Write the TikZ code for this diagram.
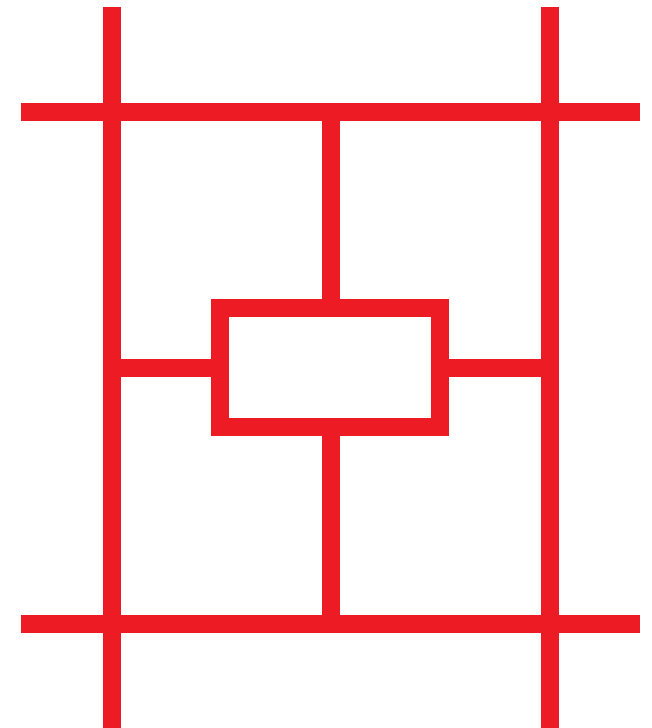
\documentclass[tikz,border=0pt]{standalone}
\usepackage{xcolor}
\usetikzlibrary{positioning,calc}
\definecolor{barred}{RGB}{237,28,36}

\begin{document}
\begin{tikzpicture}[x=1pt,y=-1pt,
	bar/.style={draw=barred,line width=18pt},
	frame/.style={bar,rectangle,inner sep=0pt,minimum width=220pt,minimum height=119pt}]
	
	\useasboundingbox (0,0) rectangle (652,728);
	
	% Rails
	\coordinate (lt) at (112,7);
	\coordinate (lb) at (112,728);
	\coordinate (rt) at (550,7);
	\coordinate (rb) at (550,728);
	\coordinate (tl) at (21,112);
	\coordinate (tr) at (640,112);
	\coordinate (bl) at (21,624);
	\coordinate (br) at (640,624);
	\draw[bar] (lt) -- (lb);
	\draw[bar] (rt) -- (rb);
	\draw[bar] (tl) -- (tr);
	\draw[bar] (bl) -- (br);
	
	% Middle frame
	\node[frame] (box) at (330,367.5) {};
	
	% Links to the rails
	\draw[bar] ([xshift=1pt]box.north) -- ([xshift=1pt]box.north |- tl);
	\draw[bar] ([xshift=1pt]box.south) -- ([xshift=1pt]box.south |- bl);
	\draw[bar] (box.west) -- (box.west -| lt);
	\draw[bar] (box.east) -- (box.east -| rt);
	
\end{tikzpicture}
\end{document}
